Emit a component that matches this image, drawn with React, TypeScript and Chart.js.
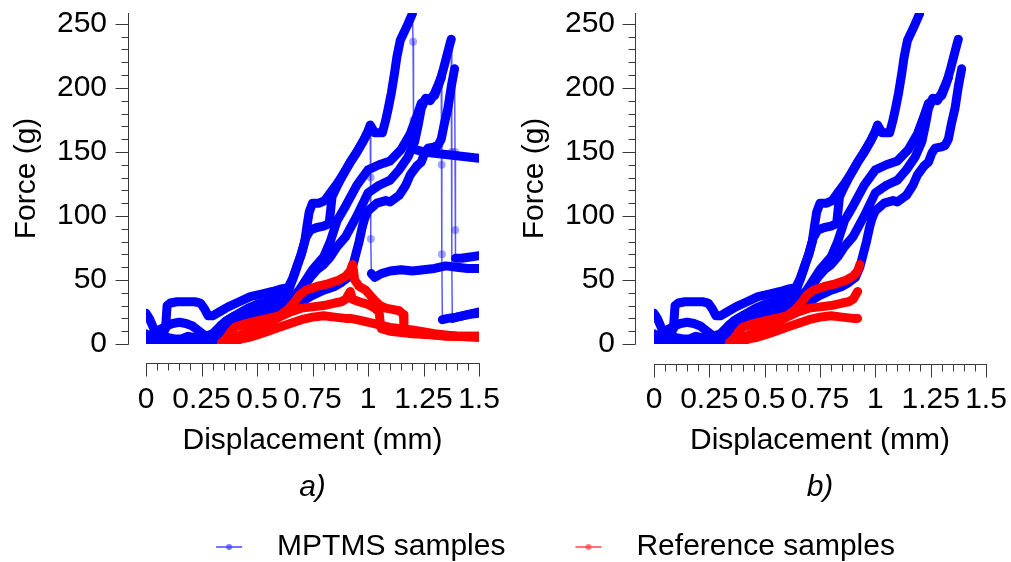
import React, { useEffect, useRef } from 'react';
import { Chart, registerables } from 'chart.js';

Chart.register(...registerables);

const FONT_FAMILY = "'Liberation Sans', Arial, Helvetica, sans-serif";
Chart.defaults.font.family = FONT_FAMILY;
Chart.defaults.color = '#000';

// ---------- axes ----------
const X_RANGE = [0, 1.5];
const Y_RANGE = [0, 258.5];
const X_TICKS = [0, 0.25, 0.5, 0.75, 1, 1.25, 1.5];
const X_TICK_LABELS = ['0', '0.25', '0.5', '0.75', '1', '1.25', '1.5'];
const Y_TICKS = [0, 50, 100, 150, 200, 250];
const Y_TICK_LABELS = ['0', '50', '100', '150', '200', '250'];
const X_MINOR_STEP = 0.05;
const Y_MINOR_STEP = 10;
const X_TITLE = 'Displacement (mm)';
const Y_TITLE = 'Force (g)';
const SERIES_LABELS = ['MPTMS samples', 'Reference samples'];
const PANEL_CAPTIONS = ['a)', 'b)'];

// ---------- MPTMS samples (blue) ----------
const MPTMS_1_X = [0, 0.015, 0.03, 0.045, 0.06, 0.08, 0.1, 0.13, 0.16, 0.19, 0.22, 0.25, 0.28, 0.31, 0.34, 0.38, 0.42, 0.46, 0.5, 0.54, 0.58, 0.61, 0.64, 0.66, 0.68, 0.7, 0.72, 0.74, 0.77, 0.8, 0.825, 0.832, 0.838, 0.86, 0.89, 0.92, 0.95, 0.98, 1.0, 1.01, 1.012, 1.013, 1.015, 1.03, 1.06, 1.1, 1.15, 1.2, 1.25, 1.3, 1.35, 1.4, 1.45, 1.5];
const MPTMS_1_Y = [24, 20, 14, 9, 7, 6, 5, 4, 4, 6, 5, 3, 3, 8, 15, 20, 24, 28, 31, 33, 35, 37, 41, 50, 60, 71, 83, 89, 91, 92, 94, 105, 115, 123, 133, 142, 150, 159, 166, 170, 130, 82, 55, 52, 55, 57, 58, 57, 58, 59, 61, 60, 59, 59];

const MPTMS_2_X = [0, 0.02, 0.04, 0.06, 0.075, 0.088, 0.095, 0.11, 0.14, 0.18, 0.22, 0.245, 0.265, 0.28, 0.3, 0.33, 0.37, 0.42, 0.47, 0.52, 0.57, 0.61, 0.64, 0.66, 0.68, 0.7, 0.715, 0.725, 0.735, 0.75, 0.78, 0.805, 0.83, 0.86, 0.89, 0.92, 0.95, 0.98, 1.0, 1.01, 1.03, 1.065, 1.08, 1.09, 1.105, 1.12, 1.13, 1.145, 1.175, 1.2, 1.203, 1.205, 1.21, 1.25, 1.3, 1.35, 1.4, 1.45, 1.5];
const MPTMS_2_Y = [8, 4, 3, 5, 8, 12, 30, 32, 33, 33, 33, 32, 27, 22, 22, 25, 29, 33, 37, 39, 41, 43, 44, 51, 61, 70, 80, 92, 103, 110, 110, 112, 118, 125, 133, 142, 150, 159, 166, 171, 165, 165, 175, 183, 196, 212, 224, 237, 248, 258, 236, 175, 152, 150, 149, 148, 147, 146, 145];

const MPTMS_3_X = [0, 0.05, 0.1, 0.15, 0.2, 0.25, 0.28, 0.31, 0.35, 0.4, 0.45, 0.5, 0.55, 0.6, 0.63, 0.66, 0.7, 0.74, 0.77, 0.8, 0.83, 0.86, 0.9, 0.95, 1.0, 1.05, 1.1, 1.14, 1.18, 1.21, 1.225, 1.24, 1.26, 1.28, 1.3, 1.32, 1.33, 1.332, 1.333, 1.335, 1.36, 1.4, 1.45, 1.5];
const MPTMS_3_Y = [2, 3, 2, 2, 3, 2, 3, 6, 13, 19, 23, 26, 28, 30, 32, 35, 42, 52, 58, 62, 68, 76, 84, 100, 118, 124, 128, 136, 146, 158, 170, 184, 192, 190, 196, 204, 208, 140, 70, 19, 20, 21, 23, 24];

const MPTMS_4_X = [0, 0.03, 0.06, 0.09, 0.12, 0.15, 0.18, 0.21, 0.24, 0.27, 0.3, 0.33, 0.36, 0.4, 0.45, 0.5, 0.55, 0.6, 0.63, 0.66, 0.69, 0.72, 0.75, 0.78, 0.8, 0.83, 0.86, 0.9, 0.95, 1.0, 1.05, 1.1, 1.15, 1.19, 1.22, 1.24, 1.27, 1.3, 1.32, 1.34, 1.355, 1.37, 1.375, 1.377, 1.378, 1.38, 1.4, 1.45, 1.5];
const MPTMS_4_Y = [5, 8, 11, 14, 16, 17, 16, 14, 10, 6, 8, 13, 18, 22, 25, 28, 30, 32, 34, 37, 42, 50, 58, 64, 68, 80, 96, 108, 124, 136, 140, 143, 152, 164, 178, 188, 191, 194, 203, 215, 225, 235, 238, 150, 60, 20, 21, 23, 25];

const MPTMS_5_X = [0, 0.05, 0.1, 0.15, 0.2, 0.25, 0.3, 0.33, 0.36, 0.4, 0.45, 0.5, 0.55, 0.6, 0.65, 0.7, 0.75, 0.8, 0.85, 0.88, 0.91, 0.93, 0.945, 0.96, 0.975, 0.985, 1.0, 1.04, 1.08, 1.1, 1.14, 1.17, 1.19, 1.22, 1.24, 1.255, 1.27, 1.3, 1.315, 1.33, 1.345, 1.36, 1.375, 1.39, 1.392, 1.393, 1.395, 1.42, 1.46, 1.5];
const MPTMS_5_Y = [0, 1, 1, 0, 1, 0, 1, 3, 8, 14, 18, 22, 25, 28, 31, 33, 38, 42, 45, 48, 52, 60, 70, 80, 92, 98, 104, 110, 112, 111, 116, 124, 132, 139, 142, 149, 153, 154, 155, 160, 173, 184, 201, 215, 150, 89, 67, 67, 68, 69];

// displacement at failure (panel b shows each curve only up to it)
const MPTMS_FAIL_X = [1.01, 1.2, 1.33, 1.375, 1.39];

// ---------- Reference samples (red) ----------
const REF_1_X = [0.34, 0.36, 0.38, 0.4, 0.45, 0.5, 0.55, 0.6, 0.64, 0.67, 0.69, 0.72, 0.77, 0.82, 0.87, 0.9, 0.92, 0.93, 0.935, 0.94, 0.96, 0.99, 1.01, 1.03, 1.055, 1.08, 1.11, 1.14, 1.16, 1.162, 1.17, 1.2, 1.25, 1.3, 1.35, 1.4, 1.45, 1.5];
const REF_1_Y = [1, 4, 9, 13, 16, 18, 20, 22, 27, 33, 38, 42, 45, 47, 50, 53, 57, 62, 57, 50, 45, 42, 38, 34, 30, 28, 27, 26, 23, 12, 11, 10, 8, 7, 6, 6, 6, 6];

const REF_2_X = [0.36, 0.4, 0.45, 0.5, 0.55, 0.6, 0.65, 0.7, 0.75, 0.8, 0.85, 0.88, 0.9, 0.91, 0.92, 0.93, 0.96, 1.0, 1.03, 1.05, 1.055, 1.06, 1.1, 1.2, 1.3, 1.4, 1.5];
const REF_2_Y = [1, 5, 9, 12, 16, 21, 25, 28, 29, 30, 32, 33, 35, 38, 41, 35, 33, 31, 28, 25, 17, 12, 10, 8, 7, 6, 6];

const REF_3_X = [0.37, 0.4, 0.43, 0.46, 0.5, 0.55, 0.6, 0.65, 0.7, 0.75, 0.8, 0.85, 0.9, 0.92, 0.95, 1.0, 1.05, 1.1, 1.15, 1.2, 1.3, 1.4, 1.5];
const REF_3_Y = [1, 2, 4, 5, 7, 10, 13, 16, 19, 21, 22, 21, 20, 20, 19, 17, 15, 13, 12, 11, 8, 6, 5];

const REF_FAIL_X = [0.93, 0.92, 0.92];

const MPTMS_SERIES = [
  [MPTMS_1_X, MPTMS_1_Y],
  [MPTMS_2_X, MPTMS_2_Y],
  [MPTMS_3_X, MPTMS_3_Y],
  [MPTMS_4_X, MPTMS_4_Y],
  [MPTMS_5_X, MPTMS_5_Y],
];
const REF_SERIES = [
  [REF_1_X, REF_1_Y],
  [REF_2_X, REF_2_Y],
  [REF_3_X, REF_3_Y],
];

const COLORS = {
  mptms: { solid: '#0000ff', thin: 'rgba(0,0,255,0.65)', dot: 'rgba(0,0,255,0.35)', legend: 'rgba(70,70,255,0.75)' },
  ref: { solid: '#ff0000', thin: 'rgba(255,0,0,0.65)', dot: 'rgba(255,0,0,0.35)', legend: 'rgba(255,70,70,0.75)' },
};

const BAND = 9;

type Pt = { x: number; y: number };

function isSteep(a: Pt, b: Pt) {
  const dy = Math.abs(b.y - a.y);
  const dx = Math.abs(b.x - a.x);
  return dy > 15 && dy > 3000 * dx;
}

function isDropPoint(data: Pt[], i: number) {
  if (i > 0 && isSteep(data[i - 1], data[i])) return true;
  if (i < data.length - 1 && isSteep(data[i], data[i + 1])) return true;
  return false;
}

function makeDataset(xs: number[], ys: number[], failX: number, truncated: boolean, c: any, label: string) {
  const data: Pt[] = xs
    .map((x, i) => ({ x, y: ys[i] }))
    .filter((p) => !truncated || p.x <= failX + 1e-9);
  return {
    label,
    data,
    borderColor: c.solid,
    backgroundColor: c.dot,
    borderWidth: BAND,
    borderCapStyle: 'round',
    borderJoinStyle: 'round',
    fill: false,
    tension: 0,
    clip: 0,
    pointRadius: (ctx: any) => (isDropPoint(ctx.dataset.data, ctx.dataIndex) ? 4 : 0),
    pointHoverRadius: 0,
    pointBorderWidth: 0,
    pointBackgroundColor: c.dot,
    segment: {
      borderWidth: (ctx: any) => (isSteep(ctx.p0.parsed, ctx.p1.parsed) ? 1.5 : BAND),
      borderColor: (ctx: any) => (isSteep(ctx.p0.parsed, ctx.p1.parsed) ? c.thin : c.solid),
    },
  };
}

function buildDatasets(truncated: boolean) {
  const reds = REF_SERIES.map(([xs, ys], i) =>
    makeDataset(xs, ys, REF_FAIL_X[i], truncated, COLORS.ref, SERIES_LABELS[1]));
  const blues = MPTMS_SERIES.map(([xs, ys], i) =>
    makeDataset(xs, ys, MPTMS_FAIL_X[i], truncated, COLORS.mptms, SERIES_LABELS[0]));
  return [...reds, ...blues];
}

const detachedAxes = {
  id: 'detachedAxes',
  afterDraw(chart: any, _args: any, opts: any) {
    const { ctx, chartArea } = chart;
    const xs = chart.scales.x;
    const ys = chart.scales.y;
    const ax = Math.round(chartArea.left - opts.yGap) + 0.5;
    const ay = Math.round(chartArea.bottom + opts.xGap) + 0.5;
    ctx.save();
    ctx.strokeStyle = '#3a3a3a';
    ctx.lineWidth = 1;
    ctx.beginPath();
    // y axis line
    ctx.moveTo(ax, Math.round(ys.getPixelForValue(Y_RANGE[0])) + 0.5);
    ctx.lineTo(ax, Math.round(ys.getPixelForValue(Y_RANGE[1])));
    const yLast = Y_TICKS[Y_TICKS.length - 1];
    for (let i = 0; i * Y_MINOR_STEP <= yLast + 1e-9; i++) {
      const v = i * Y_MINOR_STEP;
      const major = Y_TICKS.some((t) => Math.abs(t - v) < 1e-9);
      const py = Math.round(ys.getPixelForValue(v)) + 0.5;
      ctx.moveTo(ax - (major ? 13 : 7), py);
      ctx.lineTo(ax, py);
    }
    // x axis line
    ctx.moveTo(Math.round(xs.getPixelForValue(X_RANGE[0])), ay);
    ctx.lineTo(Math.round(xs.getPixelForValue(X_RANGE[1])) + 1, ay);
    const n = Math.round((X_RANGE[1] - X_RANGE[0]) / X_MINOR_STEP);
    for (let i = 0; i <= n; i++) {
      const v = X_RANGE[0] + i * X_MINOR_STEP;
      const major = X_TICKS.some((t) => Math.abs(t - v) < 1e-9);
      const px = Math.round(xs.getPixelForValue(v)) + 0.5;
      ctx.moveTo(px, ay);
      ctx.lineTo(px, ay + (major ? 13 : 7));
    }
    ctx.stroke();
    ctx.restore();
  },
};

const clearPadding = (s: any) => {
  s.paddingTop = 0;
  s.paddingBottom = 0;
  s.paddingLeft = 0;
  s.paddingRight = 0;
};

function Panel(props: { truncated: boolean; caption: string; left: number; width: number; rightPad: number; yGap: number; xGap: number }) {
  const ref = useRef<HTMLCanvasElement>(null);
  const { truncated, caption, left, width, rightPad, yGap, xGap } = props;
  useEffect(() => {
    const chart = new Chart(ref.current as HTMLCanvasElement, {
      type: 'line',
      data: { datasets: buildDatasets(truncated) as any },
      options: {
        responsive: false,
        animation: false,
        events: [],
        layout: { autoPadding: false, padding: { top: 13, right: rightPad, bottom: 0, left: 0 } },
        plugins: {
          legend: { display: false },
          tooltip: { enabled: false },
          title: {
            display: true,
            text: caption,
            position: 'bottom',
            fullSize: false,
            color: '#000',
            font: { family: FONT_FAMILY, size: 30, style: 'italic', weight: 'normal' },
            padding: { top: 11, bottom: 14 },
          },
          detachedAxes: { yGap, xGap },
        } as any,
        scales: {
          x: {
            type: 'linear',
            min: X_RANGE[0],
            max: X_RANGE[1],
            grid: { display: false, drawTicks: false },
            border: { display: false },
            afterBuildTicks: (s: any) => { s.ticks = X_TICKS.map((v) => ({ value: v })); },
            afterFit: (s: any) => { s.height = 115; clearPadding(s); },
            ticks: {
              autoSkip: false,
              maxRotation: 0,
              minRotation: 0,
              padding: 38,
              color: '#000',
              font: { size: 30 },
              callback: (_v: any, i: number) => X_TICK_LABELS[i],
            },
            title: { display: true, text: X_TITLE, color: '#000', font: { size: 30 }, padding: { top: 0, bottom: 0 } },
          },
          y: {
            type: 'linear',
            min: Y_RANGE[0],
            max: Y_RANGE[1],
            grid: { display: false, drawTicks: false },
            border: { display: false },
            afterBuildTicks: (s: any) => { s.ticks = Y_TICKS.map((v) => ({ value: v })); },
            afterFit: (s: any) => { s.width = 146; clearPadding(s); },
            ticks: {
              autoSkip: false,
              padding: 39,
              color: '#000',
              font: { size: 30 },
              callback: (_v: any, i: number) => Y_TICK_LABELS[i],
            },
            title: { display: true, text: Y_TITLE, color: '#000', font: { size: 30 }, padding: { top: 9, bottom: 0 } },
          },
        } as any,
      },
      plugins: [detachedAxes],
    });
    return () => chart.destroy();
  }, []);
  return <canvas ref={ref} width={width} height={520} style={{ position: 'absolute', left, top: 0 }} />;
}

function LegendStrip() {
  const ref = useRef<HTMLCanvasElement>(null);
  useEffect(() => {
    const makeMarker = (color: string) => {
      const c = document.createElement('canvas');
      c.width = 28;
      c.height = 10;
      const g = c.getContext('2d') as CanvasRenderingContext2D;
      g.strokeStyle = color;
      g.lineWidth = 2;
      g.beginPath();
      g.moveTo(1, 5);
      g.lineTo(27, 5);
      g.stroke();
      g.fillStyle = color;
      g.beginPath();
      g.arc(14, 5, 3, 0, Math.PI * 2);
      g.fill();
      return c;
    };
    const markers = [makeMarker(COLORS.mptms.legend), makeMarker(COLORS.ref.legend)];
    const chart = new Chart(ref.current as HTMLCanvasElement, {
      type: 'line',
      data: {
        datasets: SERIES_LABELS.map((label, i) => ({
          label,
          data: [],
          borderColor: i === 0 ? COLORS.mptms.solid : COLORS.ref.solid,
        })),
      },
      options: {
        responsive: false,
        animation: false,
        events: [],
        layout: { autoPadding: false, padding: { left: 80, top: 0, right: 0, bottom: 0 } },
        scales: { x: { display: false }, y: { display: false } },
        plugins: {
          tooltip: { enabled: false },
          legend: {
            display: true,
            position: 'top',
            align: 'center',
            labels: {
              color: '#000',
              font: { size: 30 },
              usePointStyle: true,
              pointStyleWidth: 66,
              padding: 50,
              generateLabels: () =>
                SERIES_LABELS.map((text, i) => ({
                  text,
                  pointStyle: markers[i],
                  fillStyle: 'transparent',
                  strokeStyle: 'transparent',
                  lineWidth: 0,
                  hidden: false,
                  datasetIndex: i,
                })) as any,
            },
          },
        },
      },
    });
    return () => chart.destroy();
  }, []);
  return <canvas ref={ref} width={1011} height={200} style={{ position: 'absolute', left: 0, top: 482 }} />;
}

export default function App() {
  return (
    <div style={{ position: 'fixed', left: 0, top: 0, width: 1011, height: 562, background: '#fff', overflow: 'hidden' }}>
      <Panel truncated={false} caption={PANEL_CAPTIONS[0]} left={0} width={505} rightPad={26} yGap={18} xGap={19} />
      <Panel truncated={true} caption={PANEL_CAPTIONS[1]} left={508} width={503} rightPad={25} yGap={19} xGap={20} />
      <LegendStrip />
    </div>
  );
}
